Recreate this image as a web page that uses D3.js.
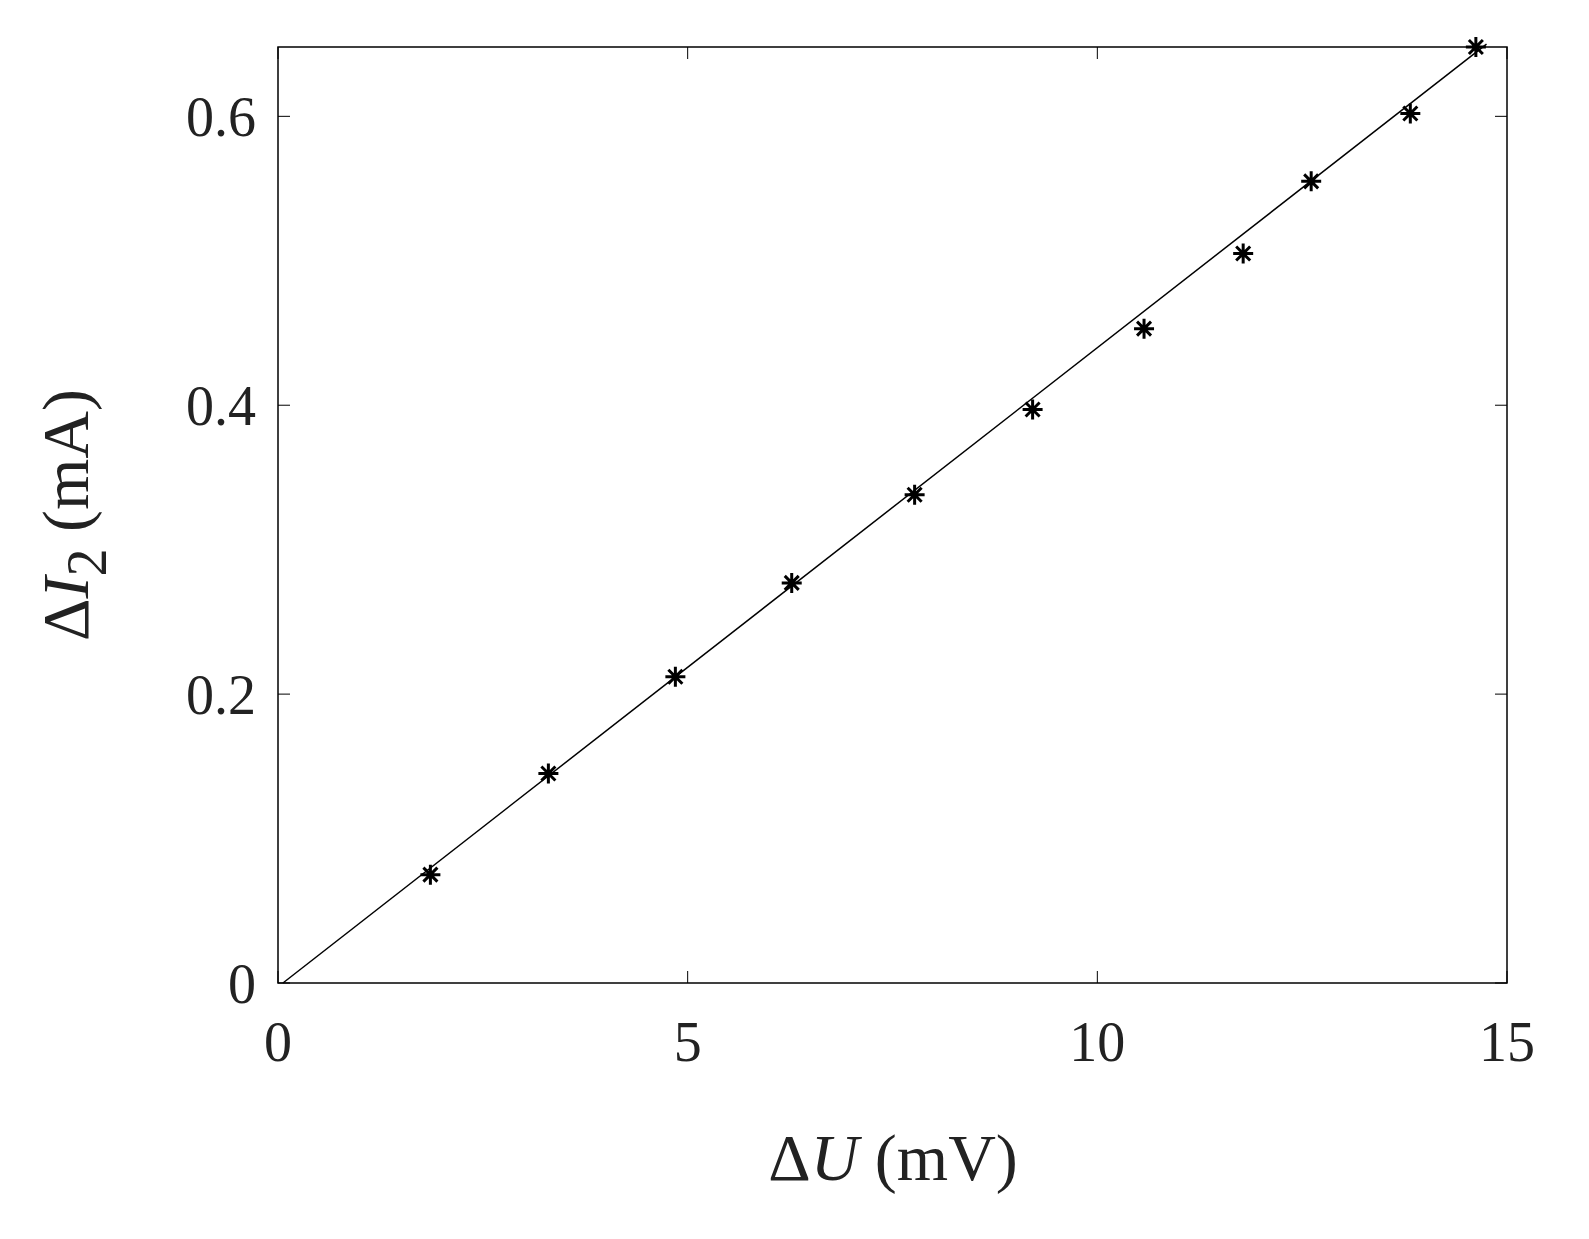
<!DOCTYPE html>
<html><head><meta charset="utf-8">
<script src="https://cdn.jsdelivr.net/npm/d3@7"></script>
<style>body{margin:0;background:#fff}</style>
</head><body>
<svg width="1589" height="1239"></svg>
<script>
const deltaU = [1.86, 3.30, 4.85, 6.27, 7.77, 9.21, 10.57, 11.78, 12.61, 13.82, 14.62]
const deltaI2 = [0.075, 0.145, 0.212, 0.277, 0.338, 0.397, 0.453, 0.505, 0.555, 0.602, 0.648]
const fitU = [0.06, 14.75]
const fitI = [0, 0.65]
const xTicks = [0, 5, 10, 15]
const yTicks = [0, 0.2, 0.4, 0.6]

const svg = d3.select("svg")
const plotL = 278, plotR = 1507, plotT = 47, plotB = 983
const x = d3.scaleLinear().domain([0, 15]).range([plotL, plotR])
const y = d3.scaleLinear().domain([0, 0.648]).range([plotB, plotT])
const font = "'Liberation Serif', 'Times New Roman', serif"

svg.append("rect").attr("x", plotL).attr("y", plotT).attr("width", plotR - plotL).attr("height", plotB - plotT)
    .attr("fill", "none").attr("stroke", "#000").attr("stroke-width", 1.5)

// ticks, inward, on both sides
xTicks.forEach(function(t){
    svg.append("line").attr("x1", x(t)).attr("x2", x(t)).attr("y1", plotB).attr("y2", plotB - 12).attr("stroke", "#000")
    svg.append("line").attr("x1", x(t)).attr("x2", x(t)).attr("y1", plotT).attr("y2", plotT + 12).attr("stroke", "#000")
})
yTicks.forEach(function(t){
    svg.append("line").attr("x1", plotL).attr("x2", plotL + 12).attr("y1", y(t)).attr("y2", y(t)).attr("stroke", "#000")
    svg.append("line").attr("x1", plotR).attr("x2", plotR - 12).attr("y1", y(t)).attr("y2", y(t)).attr("stroke", "#000")
})

svg.selectAll(".xl").data(xTicks).join("text")
    .attr("x", d => x(d)).attr("y", plotB + 78).attr("text-anchor", "middle")
    .attr("font-family", font).attr("font-size", 56).attr("fill", "#222").text(d => d)
svg.selectAll(".yl").data(yTicks).join("text")
    .attr("x", plotL - 22).attr("y", d => y(d) + 20).attr("text-anchor", "end")
    .attr("font-family", font).attr("font-size", 56).attr("fill", "#222").text(d => d)

// fit line
svg.append("path").datum(fitU.map((u, i) => [u, fitI[i]]))
    .attr("d", d3.line().x(d => x(d[0])).y(d => y(d[1])))
    .attr("stroke", "#000").attr("stroke-width", 1.5).attr("fill", "none")

// asterisk markers
const star = "M-10,0H10M0,-10V10M-7,-7L7,7M-7,7L7,-7"
svg.selectAll(".pt").data(deltaU).join("path")
    .attr("transform", (d, i) => "translate(" + x(d) + "," + y(deltaI2[i]) + ")")
    .attr("d", star).attr("stroke", "#000").attr("stroke-width", 3).attr("fill", "none")

// axis labels
const xl = svg.append("text").attr("x", 893).attr("y", 1180).attr("text-anchor", "middle")
    .attr("font-family", font).attr("font-size", 66).attr("fill", "#222")
xl.append("tspan").text("Δ")
xl.append("tspan").attr("font-style", "italic").text("U")
xl.append("tspan").text(" (mV)")

const yl = svg.append("text").attr("transform", "translate(88,515) rotate(-90)").attr("text-anchor", "middle")
    .attr("font-family", font).attr("font-size", 66).attr("fill", "#222")
yl.append("tspan").text("Δ")
yl.append("tspan").attr("font-style", "italic").text("I")
yl.append("tspan").attr("dy", 18).attr("font-size", 56).text("2")
yl.append("tspan").attr("dy", -18).text(" (mA)")
</script>
</body></html>
